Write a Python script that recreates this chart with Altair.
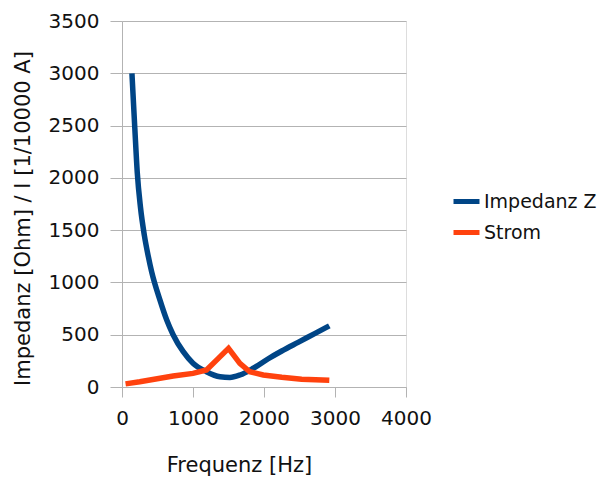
import altair as alt
import pandas as pd

# Impedanz Z (Ohm) vs Frequenz (Hz)
z_freq = [140, 180, 215, 260, 315, 370, 418, 535, 630, 720, 860, 1000, 1190,
          1380, 1520, 1660, 1850, 2060, 2250, 2480, 2720, 2920]
z_vals = [3000, 2480, 2050, 1720, 1450, 1250, 1100, 830, 640, 500, 340, 228, 146,
          98, 92, 115, 180, 270, 344, 427, 513, 585]

# Strom (1/10000 A) vs Frequenz (Hz)
i_freq = [50, 250, 720, 1000, 1190, 1357, 1500, 1660, 1800, 1990, 2250, 2530, 2920]
i_vals = [30, 50, 105, 130, 163, 274, 370, 226, 146, 115, 93, 75, 65]

series_names = ["Impedanz Z", "Strom"]
series_colors = ["#004586", "#ff420e"]

df = pd.concat([
    pd.DataFrame({"f": z_freq, "v": z_vals, "s": series_names[0], "o": range(len(z_freq))}),
    pd.DataFrame({"f": i_freq, "v": i_vals, "s": series_names[1], "o": range(len(i_freq))}),
])

FONT = "DejaVu Sans"

base = alt.Chart(df).encode(
    x=alt.X("f:Q", title="Frequenz [Hz]",
            scale=alt.Scale(domain=[0, 4000], nice=False),
            axis=alt.Axis(values=[0, 1000, 2000, 3000, 4000], grid=False, format="d",
                          labelOverlap=False, labelFlush=False, labelBound=False,
                          tickSize=10, tickColor="#b3b3b3", domainColor="#b3b3b3",
                          labelPadding=11, labelFontSize=20, labelFont=FONT, labelColor="#111",
                          titleFont=FONT, titleFontSize=21, titleFontWeight="normal",
                          titleColor="#111", titleX=117, titleY=84,
                          titleBaseline="alphabetic")),
    y=alt.Y("v:Q", title="Impedanz [Ohm] / I [1/10000 A]",
            scale=alt.Scale(domain=[0, 3500], nice=False),
            axis=alt.Axis(values=[0, 500, 1000, 1500, 2000, 2500, 3000, 3500],
                          grid=True, gridColor="#b3b3b3", gridWidth=1.2, format="d",
                          labelOverlap=False, labelFlush=False,
                          tickSize=12, tickColor="#b3b3b3", domainColor="#b3b3b3",
                          labelPadding=11, labelFontSize=20, labelFont=FONT, labelColor="#111",
                          titleFont=FONT, titleFontSize=21, titleFontWeight="normal",
                          titleColor="#111", titleX=-93, titleY=197,
                          titleBaseline="alphabetic")),
    color=alt.Color("s:N", scale=alt.Scale(domain=series_names, range=series_colors),
                    legend=alt.Legend(title=None, orient="none", legendX=329, legendY=165,
                                      symbolType="stroke", symbolSize=676,
                                      symbolStrokeWidth=5, labelFont=FONT,
                                      labelFontSize=19, labelColor="#111",
                                      labelOffset=2, rowPadding=5, padding=0)),
    order="o:Q",
)

z_line = base.transform_filter(alt.datum.s == series_names[0]).mark_line(
    strokeWidth=5.5, strokeCap="butt", interpolate="monotone")
i_line = base.transform_filter(alt.datum.s == series_names[1]).mark_line(
    strokeWidth=5.5, strokeCap="butt", strokeJoin="miter")

chart = alt.layer(z_line, i_line).properties(
    width=284, height=366,
    autosize=alt.AutoSizeParams(type="none"),
    padding={"left": 122, "top": 21, "right": 198, "bottom": 95},
).configure_view(stroke="#b3b3b3", strokeWidth=1.2).configure(background="white")

chart.save("out.html", embed_options={"renderer": "svg", "actions": False})
